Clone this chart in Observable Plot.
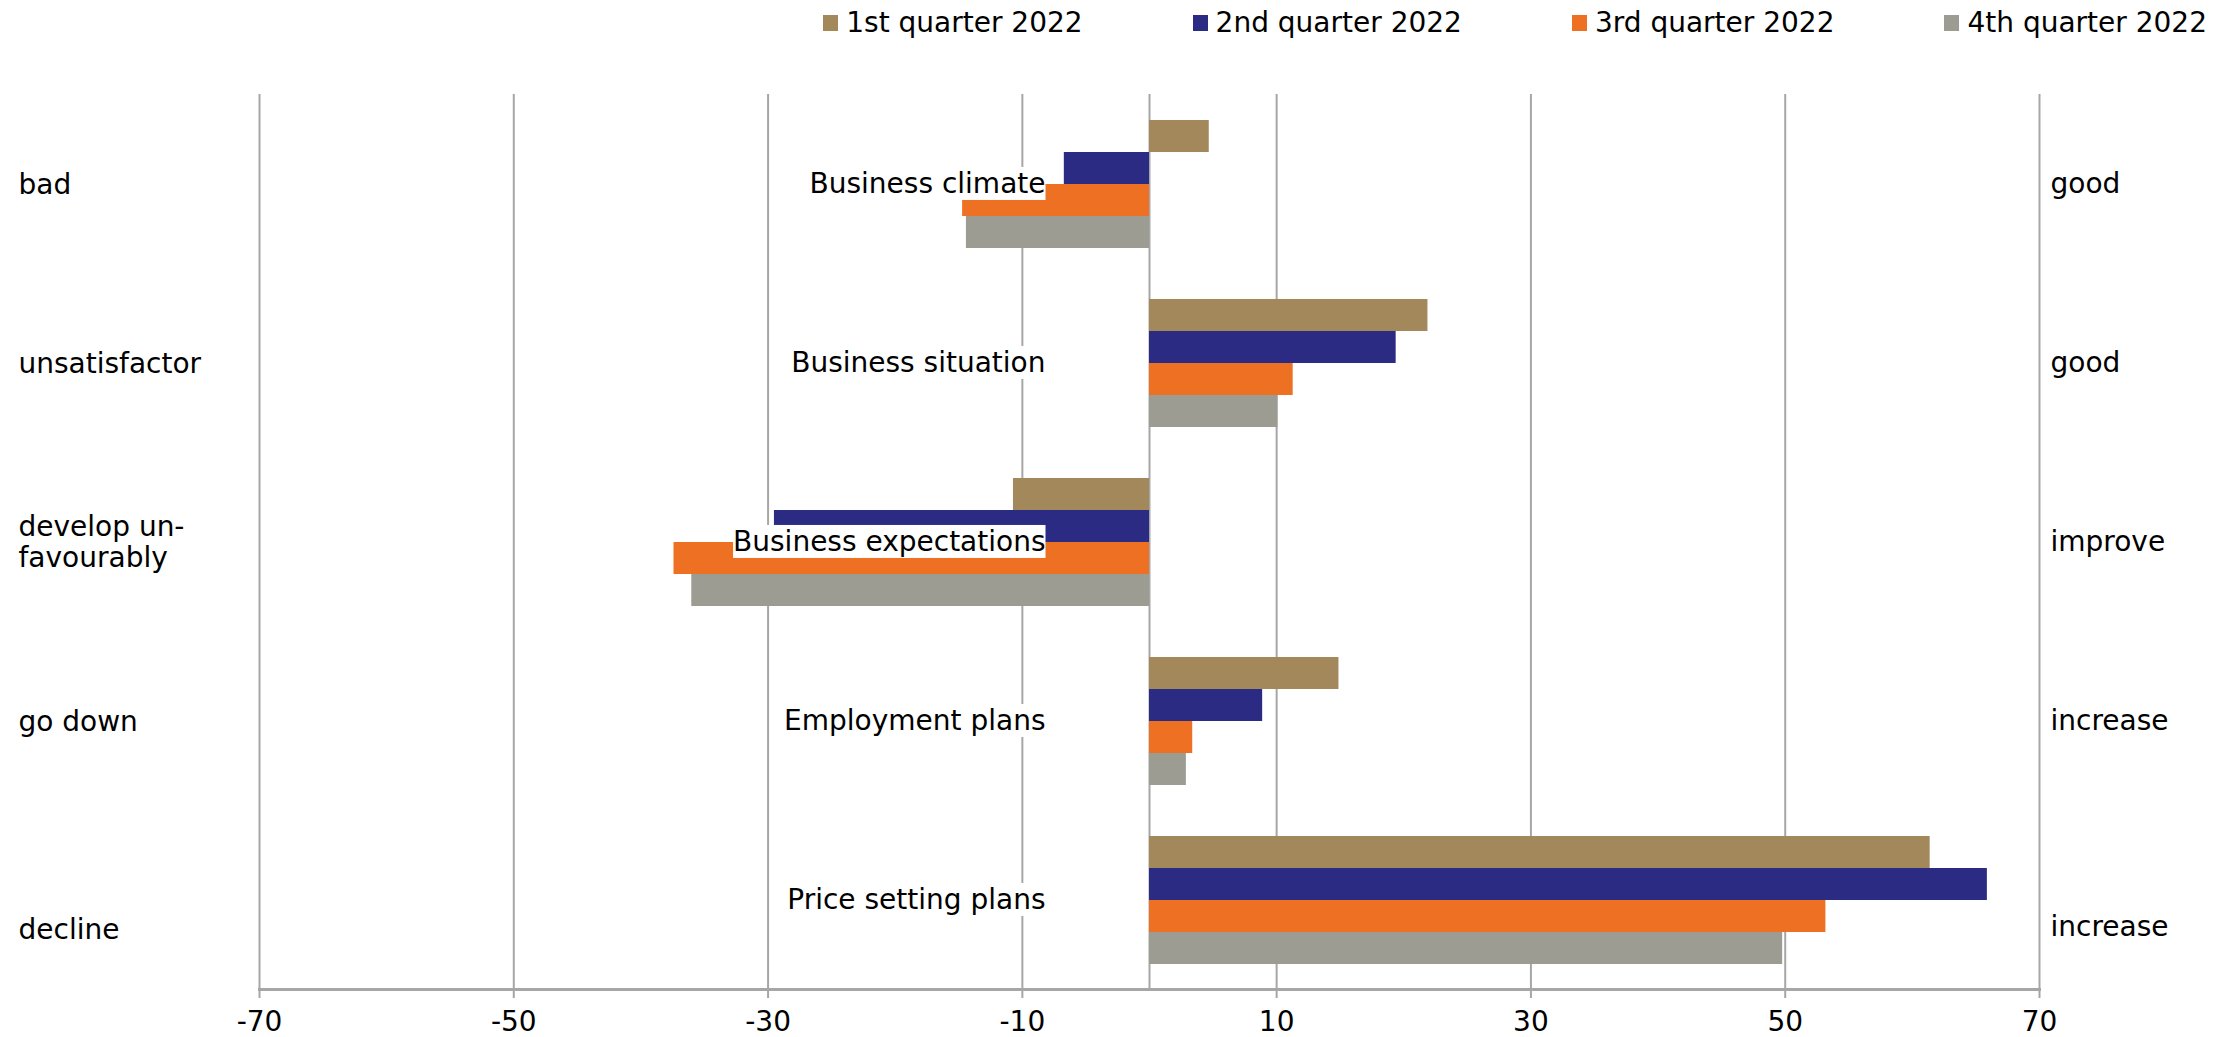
<!DOCTYPE html>
<html><head><meta charset="utf-8">
<script src="https://cdn.jsdelivr.net/npm/d3@7"></script>
<script src="https://cdn.jsdelivr.net/npm/@observablehq/plot@0.6"></script>
<style>
body{margin:0;background:#fff;font-family:"DejaVu Sans",sans-serif;}
#legend{height:45px;width:2231px;display:flex;justify-content:flex-end;align-items:center;gap:110px;box-sizing:border-box;padding-right:24px;font-size:28px;color:#000;}
.item{display:flex;align-items:center;white-space:nowrap;}
.sw{width:15px;height:16px;margin-right:8px;}
</style></head><body>
<div id="legend"></div><div id="chart"></div>
<script>
const categories = ["Business climate", "Business situation", "Business expectations", "Employment plans", "Price setting plans"];
const quarters = ["1st quarter 2022", "2nd quarter 2022", "3rd quarter 2022", "4th quarter 2022"];
const q1 = [4.7, 21.9, -10.7, 14.9, 61.4];
const q2 = [-6.7, 19.4, -29.5, 8.9, 65.9];
const q3 = [-14.7, 11.3, -37.4, 3.4, 53.2];
const q4 = [-14.4, 10.1, -36.0, 2.9, 49.8];
const leftLabels = ["bad", "unsatisfactor", "develop un-\nfavourably", "go down", "decline"];
const rightLabels = ["good", "good", "improve", "increase", "increase"];
const xTicks = [-70, -50, -30, -10, 10, 30, 50, 70];
const colors = ["#a3885c", "#2c2b83", "#ee7023", "#9d9c92"];

const series = [q1, q2, q3, q4];
const data = [];
categories.forEach((c, i) => series.forEach((s, j) => data.push({category: c, quarter: quarters[j], value: s[i]})));
const labelData = categories.map((c, i) => ({category: c, left: leftLabels[i], right: rightLabels[i], i}));

// legend
const leg = document.getElementById("legend");
quarters.forEach((q, j) => {
  const it = document.createElement("div"); it.className = "item";
  const sw = document.createElement("div"); sw.className = "sw"; sw.style.background = colors[j];
  const tx = document.createElement("span"); tx.textContent = q;
  it.append(sw, tx); leg.append(it);
});

const W = 2231, H = 992, mt = 49, mb = 48, ml = 259, mr = 192;
const facetH = (H - mt - mb) / categories.length;
const gridColor = "#a6a6a6";

const plot = Plot.plot({
  width: W, height: H, marginTop: mt, marginBottom: mb, marginLeft: ml, marginRight: mr,
  style: {fontFamily: "DejaVu Sans", fontSize: "28px", color: "#000", background: "#fff", overflow: "visible"},
  x: {domain: [-70, 70], axis: null},
  y: {domain: quarters, paddingInner: 0, paddingOuter: 0.75, axis: null},
  fy: {domain: categories, padding: 0, axis: null},
  color: {domain: quarters, range: colors},
  marks: [
    Plot.gridX(xTicks, {stroke: gridColor, strokeOpacity: 1, strokeWidth: 2}),
    Plot.ruleX([0], {stroke: gridColor, strokeWidth: 2}),
    Plot.ruleY(categories, {fy: d => d, x1: 0, x2: 0, insetLeft: -10, dy: -facetH / 2, stroke: gridColor, strokeWidth: 2}),
    Plot.barX(data, {x: "value", y: "quarter", fy: "category", fill: "quarter"}),
    Plot.text(labelData, {fy: "category", x: 0, dx: -104, text: "category", textAnchor: "end", fontSize: 28, fill: "#000"}),
    Plot.text(labelData.filter(d => d.i < 4), {fy: "category", frameAnchor: "left", dx: -(ml - 18), text: "left", textAnchor: "start", lineHeight: 1.1, fontSize: 28, fill: "#000"}),
    Plot.text(labelData.filter(d => d.i === 4), {fy: "category", frameAnchor: "left", dx: -(ml - 18), dy: 30, text: "left", textAnchor: "start", fontSize: 28, fill: "#000"}),
    Plot.text(labelData.filter(d => d.i < 4), {fy: "category", frameAnchor: "right", dx: 11, text: "right", textAnchor: "start", fontSize: 28, fill: "#000"}),
    Plot.text(labelData.filter(d => d.i === 4), {fy: "category", frameAnchor: "right", dx: 11, dy: 27, text: "right", textAnchor: "start", fontSize: 28, fill: "#000"}),
    Plot.axisX(xTicks, {tickSize: 9, tickPadding: 13, fontSize: 28, stroke: gridColor, strokeWidth: 2, color: "#000", tickFormat: d => String(d), label: null}),
    Plot.frame({anchor: "bottom", facetAnchor: "bottom", stroke: gridColor, strokeWidth: 3})
  ]
});
document.getElementById("chart").append(plot);

// white boxes behind category labels
const catSet = new Set(categories);
plot.querySelectorAll("text").forEach(t => {
  if (!catSet.has(t.textContent)) return;
  const b = t.getBBox();
  const r = document.createElementNS("http://www.w3.org/2000/svg", "rect");
  r.setAttribute("x", b.x); r.setAttribute("y", b.y);
  r.setAttribute("width", b.width); r.setAttribute("height", b.height);
  r.setAttribute("fill", "#fff");
  const tr = t.getAttribute("transform"); if (tr) r.setAttribute("transform", tr);
  t.parentNode.insertBefore(r, t);
});
</script>
</body></html>
